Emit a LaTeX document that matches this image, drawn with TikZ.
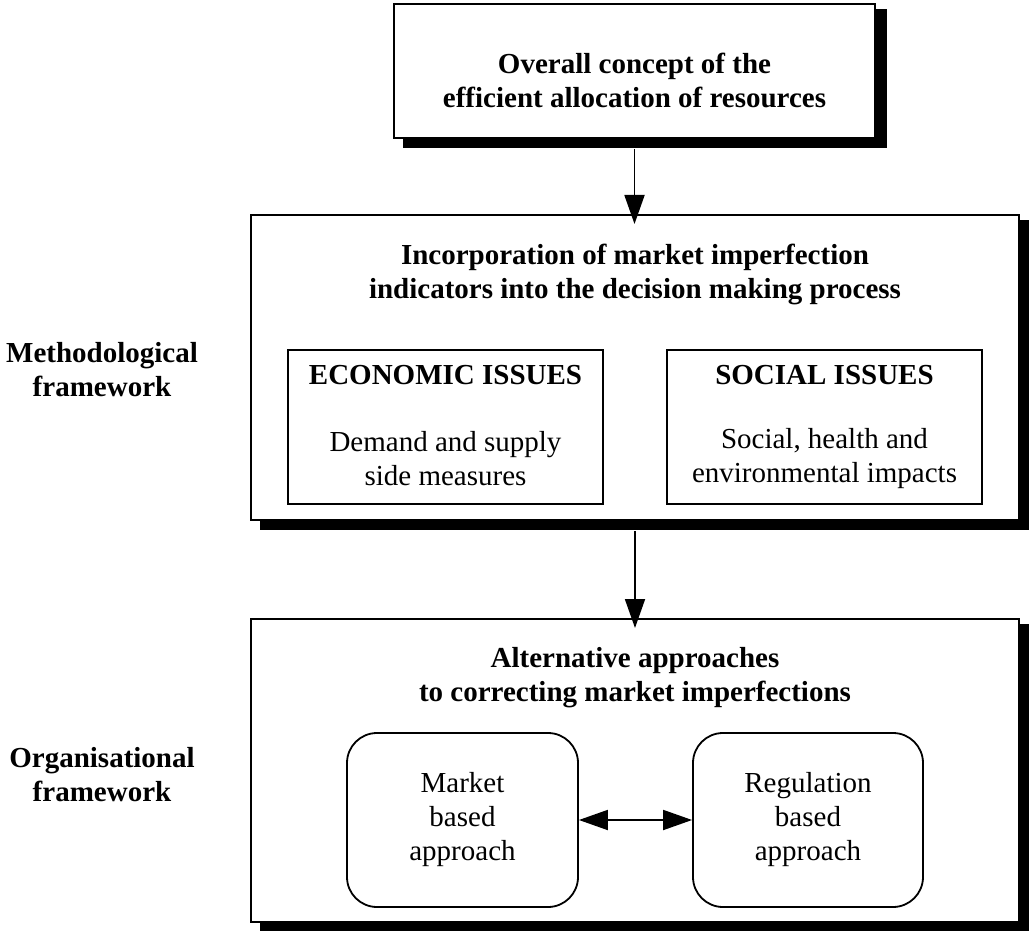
\documentclass[tikz,border=0pt]{standalone}
\usepackage{fontspec}
\setmainfont{Liberation Serif}
\usetikzlibrary{arrows.meta,calc,backgrounds}
\begin{document}
\begin{tikzpicture}[x=1pt,y=-1pt,
  every node/.style={font=\fontsize{29}{34}\selectfont, align=center, inner sep=0pt},
  heading/.style={font=\fontsize{29}{34}\selectfont\bfseries},
  frame/.style={draw, line width=2pt, fill=white},
  shade/.style={fill=black},
  subbox/.style={draw, line width=1.8pt},
  roundbox/.style={draw, line width=1.8pt, rounded corners=30pt},
  flow/.style={-{Triangle[length=29pt,width=20pt]}, line width=1.8pt},
  link/.style={{Triangle[length=29pt,width=20pt]}-{Triangle[length=29pt,width=20pt]}, line width=1.8pt},
]
\useasboundingbox (0,0) rectangle (1029,931);

% top concept box
\node[frame, minimum width=481, minimum height=134] (top) at (634.5,71) {};
\node[heading] (toptext) at (634.5,80) {Overall concept of the\\efficient allocation of resources};

% methodological framework
\node[frame, minimum width=768, minimum height=305] (mid) at (635,367.5) {};
\node[heading] (midtext) at (635,274) {Incorporation of market imperfection\\indicators into the decision making process};
\node[subbox, minimum width=315, minimum height=154] (econ) at (445.5,427) {};
\node[heading] (econhead) at (445.5,375) {ECONOMIC ISSUES};
\node (econbody) at (445.5,459) {Demand and supply\\side measures};
\node[subbox, minimum width=315, minimum height=154] (soc) at (824.5,427) {};
\node[heading] (sochead) at (824.5,375) {SOCIAL ISSUES};
\node (socbody) at (824.5,459) {Social, health and\\environmental impacts};

% organisational framework
\node[frame, minimum width=768, minimum height=303] (bot) at (635,770.5) {};
\node[heading] (bottext) at (635,678) {Alternative approaches\\to correcting market imperfections};
\node[roundbox, minimum width=231, minimum height=174] (market) at (462.5,820) {Market\\based\\approach};
\node[roundbox, minimum width=230, minimum height=174] (regul) at (808,820) {Regulation\\based\\approach};

% side labels
\node[heading] (method) at (102,370) {Methodological\\framework};
\node[heading] (organ) at (102,775) {Organisational\\framework};

% solid drop shadows behind the three main frames
\begin{scope}[on background layer]
  \foreach \b in {top,mid,bot}
    \fill[shade] ($(\b.north west)+(10,6)$) rectangle ($(\b.south east)+(11,9)$);
\end{scope}

% connectors
\draw[flow] ([yshift=-10pt]top.south) -- ([yshift=-10pt]top.south |- mid.north);
\draw[flow] ([yshift=-10pt]mid.south) -- ([yshift=-10pt]mid.south |- bot.north);
\draw[link] (market.east) -- (regul.west);
\end{tikzpicture}
\end{document}
